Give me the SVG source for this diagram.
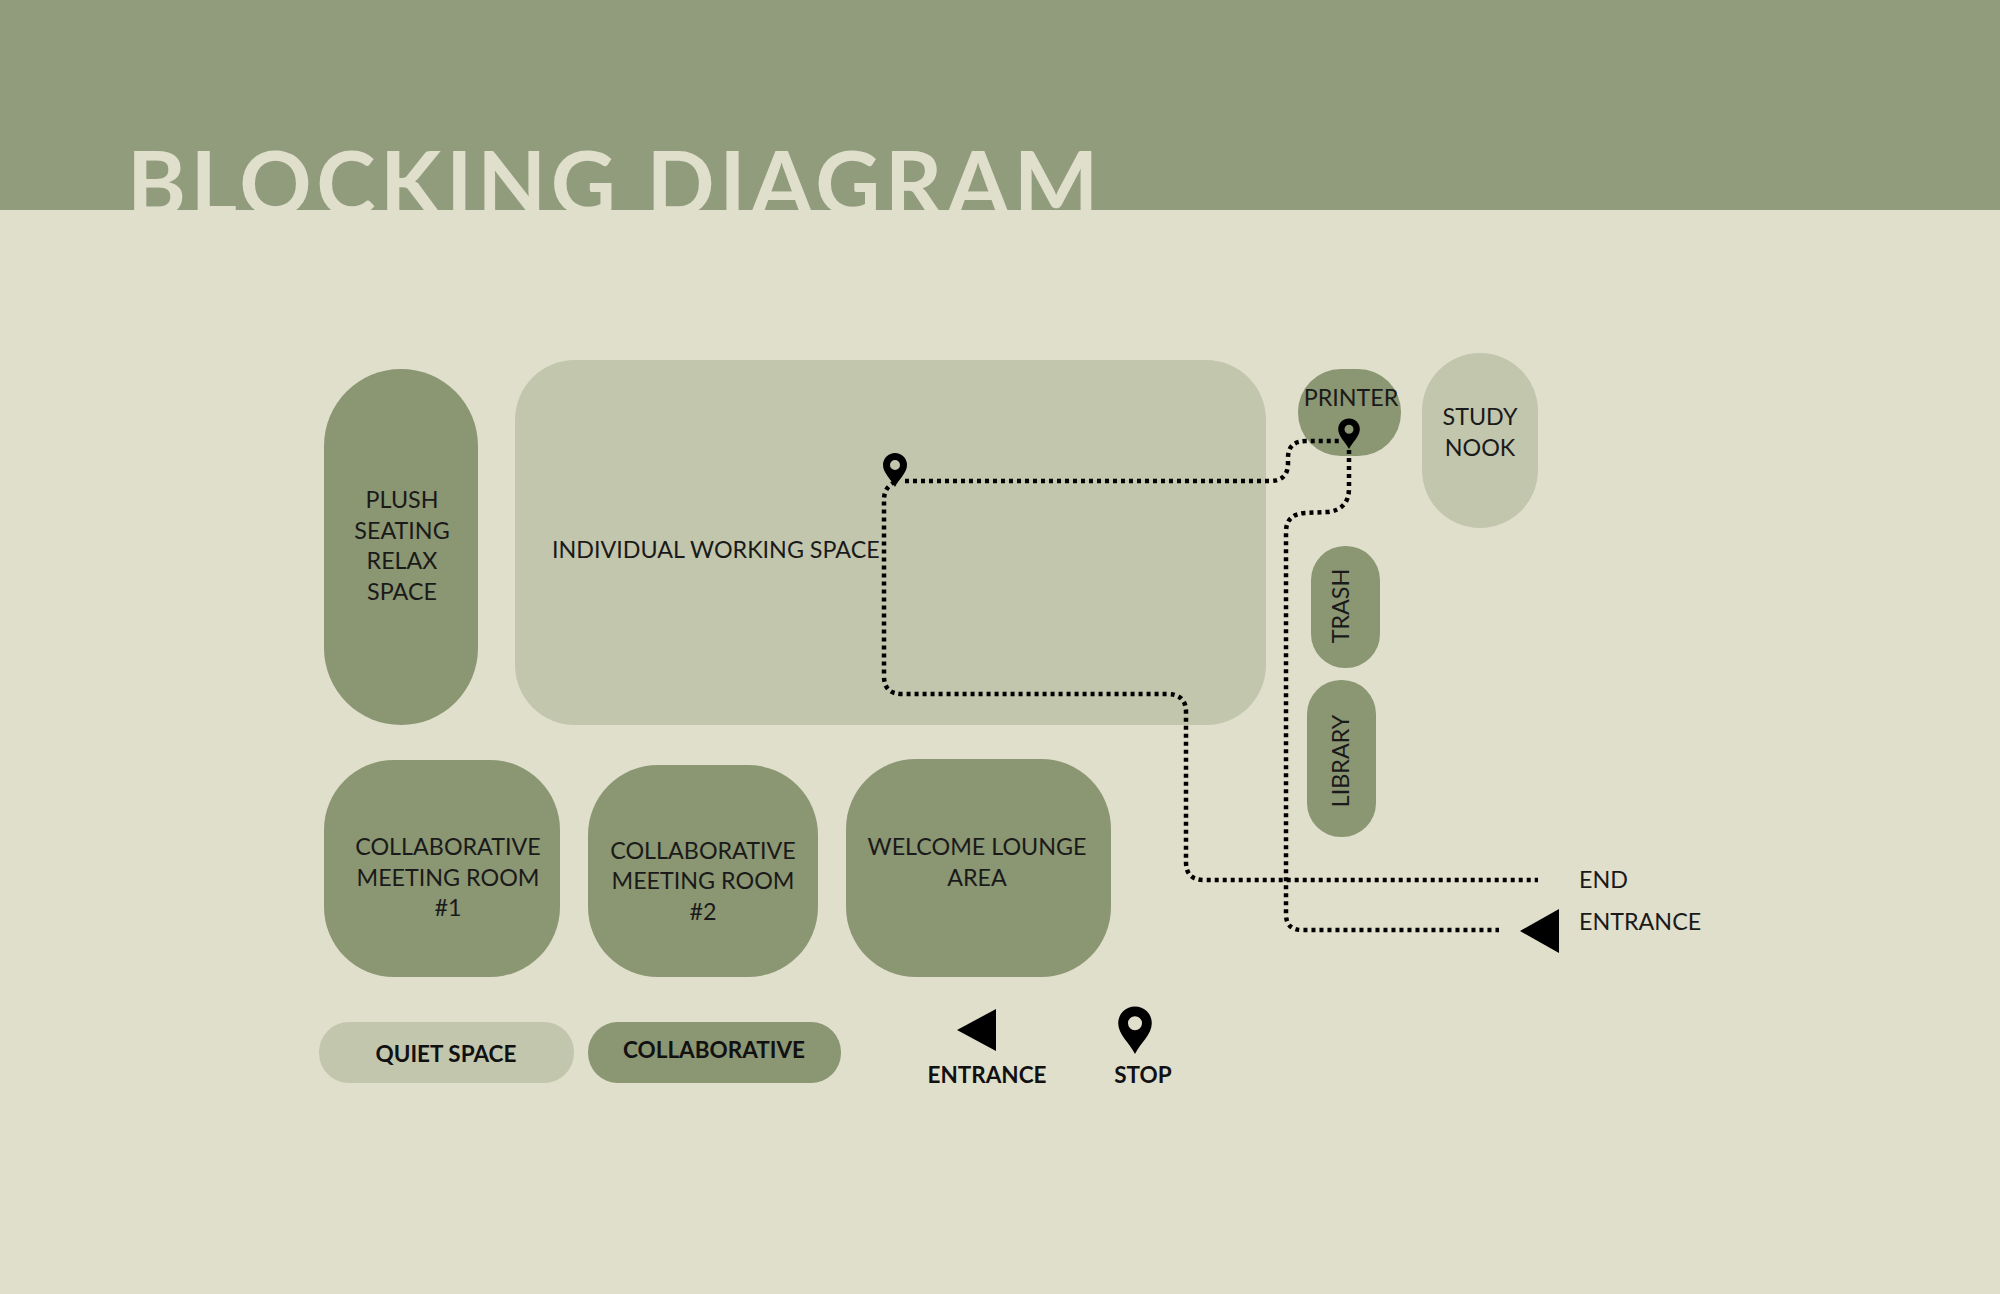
<svg xmlns="http://www.w3.org/2000/svg" width="2000" height="1294" viewBox="0 0 2000 1294">
<defs>
<style>
.d{fill:#8b9672}.l{fill:#c2c6ad}
.t{font-family:Lato,"Liberation Sans",sans-serif;font-size:23.3px;fill:#1a1a1a;text-anchor:middle}
.b{font-family:Lato,"Liberation Sans",sans-serif;font-size:22.5px;font-weight:bold;fill:#111;text-anchor:middle}
.p{fill:none;stroke:#000;stroke-width:4.5;stroke-dasharray:4 4}
</style>
<path id="pin" fill-rule="evenodd" fill="#000" d="M0,0 C-4,-8 -12,-14 -12,-22 A12,12 0 1 1 12,-22 C12,-14 4,-8 0,0 Z M-5,-22 A5,5 0 1 0 5,-22 A5,5 0 1 0 -5,-22 Z"/>
</defs>
<rect width="2000" height="1294" fill="#e0dfcc"/>
<rect width="2000" height="210" fill="#919c7d"/>
<text x="127" y="216" font-family="Lato,'Liberation Sans',sans-serif" font-weight="bold" font-size="90" letter-spacing="4.5" fill="#e0dfcc" textLength="976" lengthAdjust="spacingAndGlyphs">BLOCKING DIAGRAM</text>
<g id="plush"><rect class="d" x="324" y="369" width="154" height="356" rx="77"/><text class="t" x="402"><tspan x="402" y="508">PLUSH</tspan><tspan x="402" y="539">SEATING</tspan><tspan x="402" y="569">RELAX</tspan><tspan x="402" y="600">SPACE</tspan></text></g>
<g id="individual"><rect class="l" x="515" y="360" width="751" height="365" rx="60"/><text class="t" x="552" y="558" style="text-anchor:start">INDIVIDUAL WORKING SPACE</text></g>
<g id="printer"><rect class="d" x="1298" y="369" width="103" height="87" rx="43"/><text class="t" x="1351" y="406">PRINTER</text></g>
<g id="study"><rect class="l" x="1422" y="353" width="116" height="175" rx="58"/><text class="t"><tspan x="1480" y="425">STUDY</tspan><tspan x="1480" y="456">NOOK</tspan></text></g>
<g id="trash"><rect class="d" x="1311" y="546" width="69" height="122" rx="34"/><text class="t" transform="translate(1349,606) rotate(-90)" x="0" y="0">TRASH</text></g>
<g id="library"><rect class="d" x="1307" y="680" width="69" height="157" rx="34"/><text class="t" transform="translate(1349,761) rotate(-90)" x="0" y="0">LIBRARY</text></g>
<g id="collab1"><rect class="d" x="324" y="760" width="236" height="217" rx="70"/><text class="t"><tspan x="448" y="855">COLLABORATIVE</tspan><tspan x="448" y="886">MEETING ROOM</tspan><tspan x="448" y="916">#1</tspan></text></g>
<g id="collab2"><rect class="d" x="588" y="765" width="230" height="212" rx="70"/><text class="t"><tspan x="703" y="859">COLLABORATIVE</tspan><tspan x="703" y="889">MEETING ROOM</tspan><tspan x="703" y="920">#2</tspan></text></g>
<g id="welcome"><rect class="d" x="846" y="759" width="265" height="218" rx="70"/><text class="t"><tspan x="977" y="855">WELCOME LOUNGE</tspan><tspan x="977" y="886">AREA</tspan></text></g>
<g id="connectors">
<path class="p" d="M895,482 Q884,487 884,500 L884,676 Q884,694 902,694 L1167,694 Q1186,694 1186,712 L1186,862 Q1186,880 1204,880 L1538,880"/>
<path class="p" d="M905,481 L1270,481 Q1288,481 1288,463 L1288,458 Q1288,441 1306,441 L1342,441"/>
<path class="p" d="M1349,450 L1349,488 Q1349,510 1327,512 L1305,513 Q1286,514 1286,532 L1286,914 Q1286,930 1302,930 L1499,930"/>
</g>
<g id="markers">
<use href="#pin" transform="translate(895,487)"/>
<use href="#pin" transform="translate(1349,449) scale(0.9)"/>
<polygon points="1520,931 1559,909 1559,953" fill="#000"/>
</g>
<g id="endlabels"><text class="t" x="1579" y="888" style="text-anchor:start">END</text><text class="t" x="1579" y="930" style="text-anchor:start">ENTRANCE</text></g>
<g id="legend">
<rect class="l" x="319" y="1022" width="255" height="61" rx="30"/><text class="b" x="446" y="1062">QUIET SPACE</text>
<rect class="d" x="588" y="1022" width="253" height="61" rx="30"/><text class="b" x="714" y="1058">COLLABORATIVE</text>
<polygon points="957,1030 996,1009 996,1051" fill="#000"/><text class="b" x="987" y="1083">ENTRANCE</text>
<use href="#pin" transform="translate(1135,1054) scale(1.4)"/><text class="b" x="1143" y="1083">STOP</text>
</g>
</svg>
